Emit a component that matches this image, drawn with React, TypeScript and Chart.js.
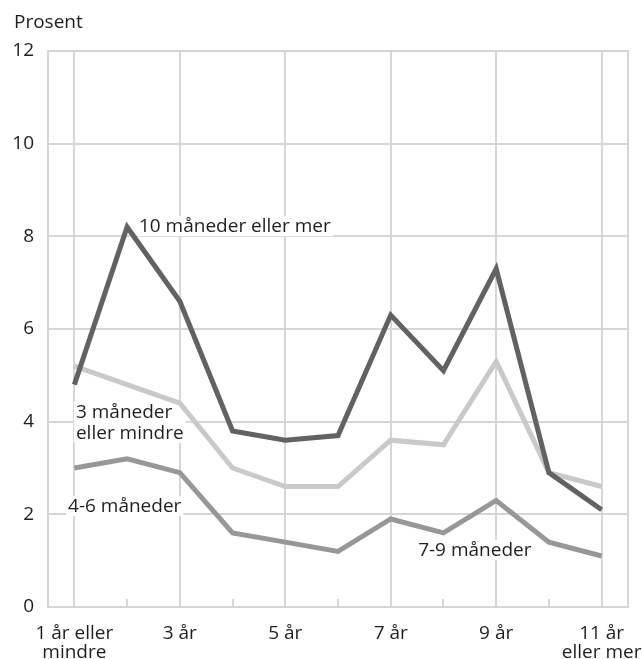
import React, { useEffect, useRef } from "react";
import { Chart, registerables } from "chart.js";

Chart.register(...registerables);

// ---- Data ----
const categories: (string | string[])[] = [
  ["1 år eller", "mindre"],
  "2 år",
  "3 år",
  "4 år",
  "5 år",
  "6 år",
  "7 år",
  "8 år",
  "9 år",
  "10 år",
  ["11 år", "eller mer"],
];
const shownTickEvery = 2;
const tenMonthsOrMore = [4.8, 8.2, 6.6, 3.8, 3.6, 3.7, 6.3, 5.1, 7.3, 2.9, 2.1];
const threeMonthsOrLess = [5.2, 4.8, 4.4, 3.0, 2.6, 2.6, 3.6, 3.5, 5.3, 2.9, 2.6];
const fourToSixMonths = [3.0, 3.2, 2.9, 1.6, 1.4, 1.2, 1.9, 1.6, 2.3, 1.4, 1.1];
const yMin = 0;
const yMax = 12;
const yStep = 2;
const yAxisTitle = "Prosent";

// Series labels placed in data space: [category index, value] = left/baseline of first line
const seriesLabels = [
  { lines: ["10 måneder eller mer"], at: [1.225, 8.09] },
  { lines: ["3 måneder", "eller mindre"], at: [0.03, 4.08] },
  { lines: ["4-6 måneder"], at: [-0.12, 2.05] },
  { lines: ["7-9 måneder"], at: [6.52, 1.1] },
];

// ---- Styles ----
const FONT = '"Open Sans", "DejaVu Sans", sans-serif';
const FONT_SIZE = 19;
const TEXT = "#1e1e1e";
const GRID = "#d6d6d6";
const DARK = "#626262";
const MID = "#979797";
const LIGHT = "#c9c9c9";

const decorPlugin = {
  id: "decor",
  beforeDatasetsDraw(chart: any) {
    const { ctx, chartArea, scales } = chart;
    const x = scales.x;
    const y = scales.y;
    ctx.save();
    // right border
    ctx.strokeStyle = GRID;
    ctx.lineWidth = 2;
    ctx.beginPath();
    ctx.moveTo(chartArea.right, chartArea.top - 1);
    ctx.lineTo(chartArea.right, chartArea.bottom);
    ctx.stroke();
    // short minor ticks for un-labelled categories
    for (let i = 0; i < categories.length; i++) {
      if (i % shownTickEvery === 0) continue;
      const px = Math.round(x.getPixelForValue(i));
      ctx.beginPath();
      ctx.moveTo(px, chartArea.bottom);
      ctx.lineTo(px, chartArea.bottom - 8);
      ctx.stroke();
    }
    // series labels with white backing
    ctx.font = `${FONT_SIZE}px ${FONT}`;
    ctx.textBaseline = "alphabetic";
    ctx.textAlign = "left";
    const lh = 21;
    for (const s of seriesLabels) {
      const lx = x.getPixelForValue(s.at[0]);
      const ly = y.getPixelForValue(s.at[1]);
      let w = 0;
      for (const l of s.lines) w = Math.max(w, ctx.measureText(l).width);
      ctx.fillStyle = "#ffffff";
      ctx.fillRect(lx - 2, ly - 16, w + 4, 20 + (s.lines.length - 1) * lh);
      ctx.fillStyle = TEXT;
      s.lines.forEach((l, k) => ctx.fillText(l, lx, ly + k * lh));
    }
    // axis title
    ctx.fillText(yAxisTitle, 14, 28);
    ctx.restore();
  },
};

export default function App() {
  const ref = useRef<HTMLCanvasElement | null>(null);
  useEffect(() => {
    if (!ref.current) return;
    const chart = new Chart(ref.current, {
      type: "line",
      data: {
        labels: categories as any,
        datasets: [
          {
            label: "10 måneder eller mer",
            data: tenMonthsOrMore,
            borderColor: DARK,
            borderWidth: 5,
            pointRadius: 0,
            tension: 0,
            borderJoinStyle: "miter",
          },
          {
            label: "4-6 måneder",
            data: fourToSixMonths,
            borderColor: MID,
            borderWidth: 5,
            pointRadius: 0,
            tension: 0,
            borderJoinStyle: "miter",
          },
          {
            label: "3 måneder eller mindre",
            data: threeMonthsOrLess,
            borderColor: LIGHT,
            borderWidth: 5,
            pointRadius: 0,
            tension: 0,
            borderJoinStyle: "miter",
          },
        ],
      },
      options: {
        animation: false,
        responsive: true,
        maintainAspectRatio: false,
        layout: { padding: { top: 51, left: 0, right: 14, bottom: 0 } },
        plugins: {
          legend: { display: false },
          tooltip: { enabled: false },
          title: { display: false },
        },
        scales: {
          x: {
            type: "category",
            offset: true,
            grid: {
              color: (c: any) => (c.index % shownTickEvery === 0 ? GRID : "rgba(0,0,0,0)"),
              lineWidth: 2,
              drawTicks: false,
            },
            border: { color: GRID, width: 2 },
            ticks: {
              autoSkip: false,
              maxRotation: 0,
              minRotation: 0,
              padding: 17,
              color: TEXT,
              font: { family: FONT, size: FONT_SIZE, lineHeight: 1.0 },
              callback: function (this: any, value: any, index: number) {
                return index % shownTickEvery === 0 ? this.getLabelForValue(value) : "";
              },
            },
            afterFit: (s: any) => {
              s.height = 52;
              s.paddingLeft = 0;
              s.paddingRight = 0;
            },
          },
          y: {
            min: yMin,
            max: yMax,
            grid: { color: GRID, lineWidth: 2, drawTicks: false },
            border: { color: GRID, width: 2 },
            ticks: {
              stepSize: yStep,
              padding: 14,
              color: TEXT,
              font: { family: FONT, size: FONT_SIZE },
            },
            afterFit: (s: any) => {
              s.width = 48;
              s.paddingTop = 0;
              s.paddingBottom = 0;
            },
          },
        },
      },
      plugins: [decorPlugin],
    });
    return () => chart.destroy();
  }, []);
  return (
    <div style={{ position: "fixed", left: 0, top: 0, width: 642, height: 659, background: "#fff" }}>
      <canvas ref={ref} />
    </div>
  );
}
